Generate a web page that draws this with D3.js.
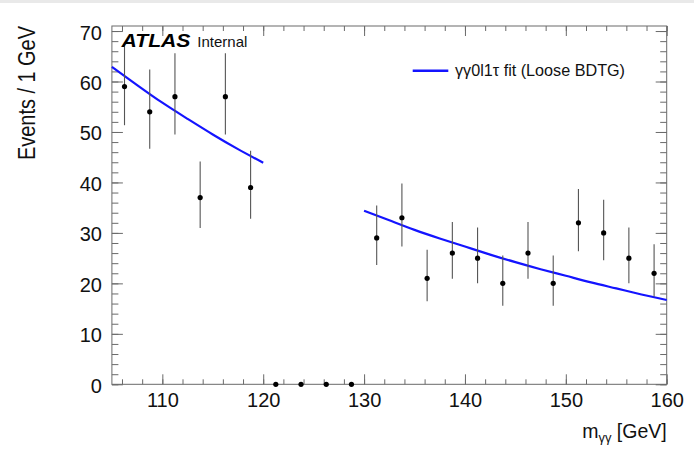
<!DOCTYPE html>
<html>
<head>
<meta charset="utf-8">
<script src="https://cdn.jsdelivr.net/npm/d3@7"></script>
<style>
  body { margin: 0; background: #fff; }
  svg { display: block; font-family: "Liberation Sans", Arial, Helvetica, sans-serif; }
</style>
</head>
<body>
<svg id="chart" width="694" height="456"></svg>
<script>
// Diphoton invariant mass spectrum, 2.5 GeV bins (signal region blinded)
const binCenters = [106.25, 108.75, 111.25, 113.75, 116.25, 118.75, 121.25, 123.75, 126.25, 128.75,
                    131.25, 133.75, 136.25, 138.75, 141.25, 143.75, 146.25, 148.75, 151.25, 153.75, 156.25, 158.75];
const counts     = [59, 54, 57, 37, 57, 39, 0, 0, 0, 0,
                    29, 33, 21, 26, 25, 20, 26, 20, 32, 30, 25, 22];
// Poisson (asymmetric) uncertainties per bin
const errLow     = [7.66, 7.32, 7.52, 6.05, 7.52, 6.21, 0, 0, 0, 0,
                    5.35, 5.71, 4.55, 5.07, 4.97, 4.43, 5.07, 4.43, 5.62, 5.44, 4.97, 4.66];
const errHigh    = [8.73, 8.40, 8.60, 7.14, 8.60, 7.30, 0, 0, 0, 0,
                    6.45, 6.81, 5.66, 6.17, 6.07, 5.54, 6.17, 5.54, 6.72, 6.55, 6.07, 5.77];

// Sideband fit curve, sampled on each sideband
const fitLeftMass    = [105, 107.5, 110, 112.5, 115, 117.5, 120];
const fitLeftEvents  = [62.9, 59.3, 55.8, 52.6, 49.5, 46.6, 43.9];
const fitRightMass   = [130, 132.5, 135, 137.5, 140, 142.5, 145, 147.5, 150, 152.5, 155, 157.5, 160];
const fitRightEvents = [34.4, 32.5, 30.6, 28.9, 27.3, 25.7, 24.2, 22.8, 21.5, 20.2, 19.0, 17.8, 16.7];

const xMajorTicks = [110, 120, 130, 140, 150, 160];
const xMinorTicks = d3.range(106, 161, 2);
const yMajorTicks = [0, 10, 20, 30, 40, 50, 60, 70];
const yMinorTicks = d3.range(0, 71, 2);

const legendLabel = "γγ0l1τ fit (Loose BDTG)";

const svg = d3.select("#chart");
const W = 694, H = 456;
const frame = { left: 111.9, right: 666.7, top: 26, bottom: 384.3 };

// thin grey band along the top edge
svg.append("rect").attr("x", 0).attr("y", 0).attr("width", W).attr("height", 3).attr("fill", "#e9e9e9");

const x = d3.scaleLinear().domain([105, 160]).range([frame.left, frame.right]);
const y = d3.scaleLinear().domain([0, 71]).range([frame.bottom, frame.top]);

const axisColor = "#6a6a6a";
const labelColor = "#111";

function styleAxis(g) {
  g.selectAll(".domain").remove();
  g.selectAll(".tick line").attr("stroke", axisColor).attr("stroke-width", 1);
  g.selectAll("text").attr("fill", labelColor).attr("font-size", 20)
    .attr("font-family", '"Liberation Sans", Arial, Helvetica, sans-serif');
}

// bottom axis: major with labels, minor without
svg.append("g").attr("transform", `translate(0,${frame.bottom})`)
  .call(d3.axisBottom(x).tickValues(xMinorTicks).tickSize(-5).tickFormat(""))
  .call(styleAxis);
svg.append("g").attr("transform", `translate(0,${frame.bottom})`)
  .call(d3.axisBottom(x).tickValues(xMajorTicks).tickSize(-10).tickPadding(9).tickFormat(d3.format("d")))
  .call(styleAxis);

// top axis (ticks only)
svg.append("g").attr("transform", `translate(0,${frame.top})`)
  .call(d3.axisTop(x).tickValues(xMinorTicks).tickSize(-5).tickFormat(""))
  .call(styleAxis);
svg.append("g").attr("transform", `translate(0,${frame.top})`)
  .call(d3.axisTop(x).tickValues(xMajorTicks).tickSize(-10).tickFormat(""))
  .call(styleAxis);

// left axis
svg.append("g").attr("transform", `translate(${frame.left},0)`)
  .call(d3.axisLeft(y).tickValues(yMinorTicks).tickSize(-6.5).tickFormat(""))
  .call(styleAxis);
const yAxisG = svg.append("g").attr("transform", `translate(${frame.left},0)`)
  .call(d3.axisLeft(y).tickValues(yMajorTicks).tickSize(-11).tickPadding(10).tickFormat(d3.format("d")))
  .call(styleAxis);
yAxisG.selectAll("text").attr("dy", "0.4em");

// right axis (ticks only)
svg.append("g").attr("transform", `translate(${frame.right},0)`)
  .call(d3.axisRight(y).tickValues(yMinorTicks).tickSize(-6.5).tickFormat(""))
  .call(styleAxis);
svg.append("g").attr("transform", `translate(${frame.right},0)`)
  .call(d3.axisRight(y).tickValues(yMajorTicks).tickSize(-11).tickFormat(""))
  .call(styleAxis);

// frame
svg.append("rect")
  .attr("x", frame.left).attr("y", frame.top)
  .attr("width", frame.right - frame.left).attr("height", frame.bottom - frame.top)
  .attr("fill", "none").attr("stroke", axisColor).attr("stroke-width", 1);

// fit curves
const line = d3.line().x(d => x(d[0])).y(d => y(d[1])).curve(d3.curveNatural);
const fitColor = "#1414ff";
svg.append("path").datum(d3.zip(fitLeftMass, fitLeftEvents))
  .attr("d", line).attr("fill", "none").attr("stroke", fitColor).attr("stroke-width", 2.2);
svg.append("path").datum(d3.zip(fitRightMass, fitRightEvents))
  .attr("d", line).attr("fill", "none").attr("stroke", fitColor).attr("stroke-width", 2.2);

// data points with error bars
const data = binCenters.map((m, i) => ({ m, n: counts[i], lo: errLow[i], hi: errHigh[i] }));
svg.append("g").selectAll("line").data(data.filter(d => d.lo > 0 || d.hi > 0)).join("line")
  .attr("x1", d => x(d.m)).attr("x2", d => x(d.m))
  .attr("y1", d => y(d.n - d.lo)).attr("y2", d => y(d.n + d.hi))
  .attr("stroke", "#555").attr("stroke-width", 1.1);
svg.append("g").selectAll("circle").data(data).join("circle")
  .attr("cx", d => x(d.m)).attr("cy", d => y(d.n)).attr("r", 2.6).attr("fill", "#000");

// legend
svg.append("line").attr("x1", 412.7).attr("x2", 448.3).attr("y1", 70.7).attr("y2", 70.7)
  .attr("stroke", fitColor).attr("stroke-width", 2.5);
svg.append("text").attr("x", 455).attr("y", 76.3).attr("font-size", 16).attr("fill", labelColor)
  .attr("textLength", 170).attr("lengthAdjust", "spacingAndGlyphs")
  .text(legendLabel);

// experiment label
svg.append("text").attr("x", 121.5).attr("y", 47.3).attr("font-size", 19)
  .attr("font-weight", "bold").attr("font-style", "italic").attr("fill", "#000")
  .attr("textLength", 69).attr("lengthAdjust", "spacingAndGlyphs")
  .text("ATLAS");
svg.append("text").attr("x", 197.3).attr("y", 47.3).attr("font-size", 15).attr("fill", labelColor)
  .text("Internal");

// axis titles
const xTitle = svg.append("text").attr("x", frame.right).attr("y", 438).attr("text-anchor", "end")
  .attr("font-size", 19.5).attr("fill", labelColor);
xTitle.append("tspan").text("m");
xTitle.append("tspan").attr("font-size", 13).attr("dy", 4).text("γγ");
xTitle.append("tspan").attr("dy", -4).text(" [GeV]");

svg.append("text").attr("transform", "translate(35,160) rotate(-90)")
  .attr("font-size", 23).attr("fill", labelColor)
  .attr("textLength", 134).attr("lengthAdjust", "spacingAndGlyphs")
  .text("Events / 1 GeV");
</script>
</body>
</html>
